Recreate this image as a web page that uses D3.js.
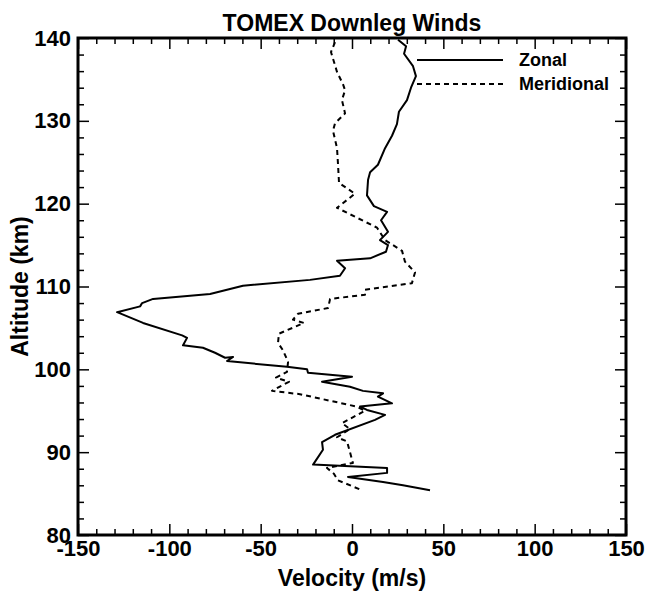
<!DOCTYPE html>
<html>
<head>
<meta charset="utf-8">
<style>
  body { margin: 0; background: #fff; }
  svg text { font-family: "Liberation Sans", Arial, Helvetica, sans-serif; font-weight: bold; fill: #000; }
  .line { fill: none; stroke: #000; stroke-width: 2px; stroke-linejoin: round; }
  .dash { stroke-dasharray: 5,4; }
  .axis path { display: none; }
  .axis line { stroke: #000; stroke-width: 1.5px; }
</style>
</head>
<body>
<svg width="645" height="593"></svg>
<script src="https://cdn.jsdelivr.net/npm/d3@7"></script>
<script>
// zonal wind profile (m/s vs km)
var zonalVel = [25.2, 29.6, 28.5, 33.4, 35.0, 32.3, 30.1, 25.7, 24.6, 21.9, 18.1, 14.2, 9.9, 8.8, 8.2,
  12.0, 19.2, 15.9, 19.7, 15.3, 19.7, 18.6, 9.9, -8.2, -3.8, -6.6, -23, -59.7, -77.7, -108.9, -114.9,
  -116, -128.6, -114.4, -93.0, -90.3, -92.5, -81.6, -75.0, -69.5, -65.1, -68.4, -35.6, -24.6, -24.1,
  0, -16.4, -1.1, 6.0, 17.0, 14.2, 21.9, 4.4, 8.2, 18.1, 12.6, -9.3, -16.4, -15.9, -21.3, 19.2, 19.2,
  -2.2, 17.0, 27.9, 42.7];
var zonalAlt = [139.8, 139.0, 138.1, 136.6, 135.4, 134.0, 132.5, 131.1, 129.6, 128.2, 126.7, 124.7, 123.8, 122.9, 121.0,
  119.7, 119.0, 118.0, 116.6, 115.6, 115.0, 114.2, 113.4, 113.1, 112.2, 111.3, 110.8, 110.1, 109.1, 108.5, 108.0,
  107.6, 106.9, 105.6, 104.1, 103.8, 102.9, 102.6, 102.0, 101.4, 101.5, 101.0, 100.3, 100.0, 99.6,
  99.1, 98.5, 97.9, 97.4, 97.1, 96.7, 95.9, 95.5, 95.1, 94.5, 93.9, 92.1, 91.2, 90.3, 88.5, 88.1, 87.5,
  87.0, 86.4, 86.0, 85.4];

// meridional wind profile
var meridVel = [-9.3, -11.5, -8.2, -4.9, -3.8, -5.5, -3.8, -9.3, -10.4, -8.2, -7.7, -7.1, 1.6, -8.2,
  13.7, 18.1, 27.4, 29.0, 34.5, 32.8, 7.1, 7.1, -12.0, -13.1, -29.6, -32.3, -26.3, -40.0, -40.5,
  -37.8, -35.0, -35.6, -41.6, -34.5, -43.8, -28.5, 2.7, 7.1, -5.5, -1.1, -8.2, -2.7, 0.5, -13.7,
  -9.9, -7.7, 5.5];
var meridAlt = [139.5, 138.3, 135.9, 134.4, 133.7, 132.5, 130.9, 129.7, 128.8, 126.7, 124.9, 122.5, 121.2, 119.5,
  117.1, 115.6, 114.3, 113.0, 111.7, 110.4, 109.6, 109.0, 108.5, 107.4, 106.7, 106.0, 105.6, 104.3, 103.2,
  102.3, 100.9, 99.7, 99.0, 98.5, 97.4, 97.0, 95.5, 95.0, 93.5, 92.8, 91.8, 91.3, 88.7, 88.1,
  87.4, 86.6, 85.4];

var xMajor = [-150, -100, -50, 0, 50, 100, 150];
var yMajor = [80, 90, 100, 110, 120, 130, 140];
var seriesNames = ["Zonal", "Meridional"];

var svg = d3.select("svg");
var pLeft = 78, pRight = 626, pTop = 38, pBottom = 535;

var x = d3.scaleLinear().domain([-150, 150]).range([pLeft, pRight]);
var y = d3.scaleLinear().domain([80, 140]).range([pBottom, pTop]);

var xMinor = d3.range(-150, 151, 10).filter(function (v) { return xMajor.indexOf(v) < 0; });
var yMinor = d3.range(80, 141, 2).filter(function (v) { return yMajor.indexOf(v) < 0; });
var plain = function (d) { return String(d); };

// minor ticks, all four sides, pointing in
svg.append("g").attr("class", "axis").attr("transform", "translate(0," + pBottom + ")")
  .call(d3.axisBottom(x).tickValues(xMinor).tickSize(-6).tickFormat(""));
svg.append("g").attr("class", "axis").attr("transform", "translate(0," + pTop + ")")
  .call(d3.axisTop(x).tickValues(xMinor).tickSize(-6).tickFormat(""));
svg.append("g").attr("class", "axis").attr("transform", "translate(" + pLeft + ",0)")
  .call(d3.axisLeft(y).tickValues(yMinor).tickSize(-6).tickFormat(""));
svg.append("g").attr("class", "axis").attr("transform", "translate(" + pRight + ",0)")
  .call(d3.axisRight(y).tickValues(yMinor).tickSize(-6).tickFormat(""));

// major ticks + labels
var gx = svg.append("g").attr("class", "axis").attr("transform", "translate(0," + pBottom + ")")
  .call(d3.axisBottom(x).tickValues(xMajor).tickSize(-11).tickPadding(5).tickFormat(plain));
gx.selectAll("text").style("font-size", "22px");
svg.append("g").attr("class", "axis").attr("transform", "translate(0," + pTop + ")")
  .call(d3.axisTop(x).tickValues(xMajor).tickSize(-11).tickFormat(""));
var gy = svg.append("g").attr("class", "axis").attr("transform", "translate(" + pLeft + ",0)")
  .call(d3.axisLeft(y).tickValues(yMajor).tickSize(-11).tickPadding(7).tickFormat(plain));
gy.selectAll("text").style("font-size", "22px");
svg.append("g").attr("class", "axis").attr("transform", "translate(" + pRight + ",0)")
  .call(d3.axisRight(y).tickValues(yMajor).tickSize(-11).tickFormat(""));

// frame
svg.append("rect")
  .attr("x", pLeft).attr("y", pTop)
  .attr("width", pRight - pLeft).attr("height", pBottom - pTop)
  .attr("fill", "none").attr("stroke", "#000").attr("stroke-width", 3);

var line = d3.line()
  .x(function (d) { return x(d[0]); })
  .y(function (d) { return y(d[1]); });

svg.append("path").attr("class", "line")
  .attr("d", line(d3.zip(zonalVel, zonalAlt)));
svg.append("path").attr("class", "line dash")
  .attr("d", line(d3.zip(meridVel, meridAlt)));

// legend
var legend = svg.append("g").selectAll("g")
  .data(seriesNames).enter().append("g")
  .attr("transform", function (d, i) { return "translate(0," + (60 + i * 24) + ")"; });
legend.append("line")
  .attr("x1", 417).attr("x2", 503)
  .attr("stroke", "#000").attr("stroke-width", 2)
  .attr("stroke-dasharray", function (d, i) { return i ? "5,4" : null; });
legend.append("text")
  .attr("x", 519).attr("dy", "0.35em")
  .style("font-size", "18px")
  .text(function (d) { return d; });

svg.append("text")
  .attr("x", (pLeft + pRight) / 2).attr("y", 31)
  .attr("text-anchor", "middle").style("font-size", "23px")
  .text("TOMEX Downleg Winds");

svg.append("text")
  .attr("x", (pLeft + pRight) / 2).attr("y", 586)
  .attr("text-anchor", "middle").style("font-size", "23px")
  .text("Velocity (m/s)");

svg.append("text")
  .attr("transform", "translate(28," + ((pTop + pBottom) / 2) + ") rotate(-90)")
  .attr("text-anchor", "middle").style("font-size", "23px")
  .text("Altitude (km)");
</script>
</body>
</html>
